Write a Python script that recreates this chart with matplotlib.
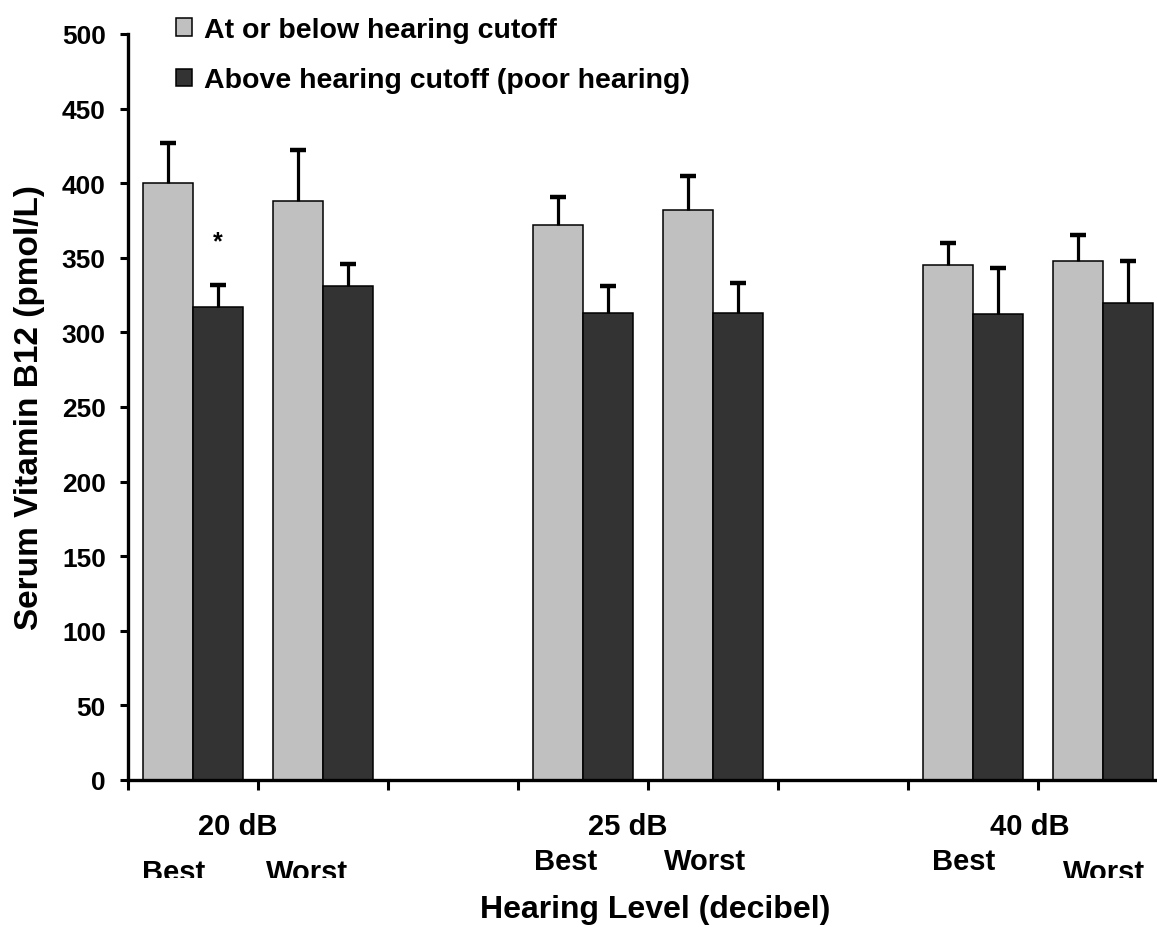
import numpy as np
import matplotlib
matplotlib.use("Agg")
import matplotlib.pyplot as plt
from matplotlib.transforms import Bbox

plt.rcParams['font.family'] = ['Liberation Sans', 'DejaVu Sans']
plt.rcParams['font.weight'] = 'bold'
plt.rcParams['axes.labelweight'] = 'bold'

# data (empty slots are the gaps between hearing levels)
slots = ['20 dB Best', '20 dB Worst', '', '25 dB Best', '25 dB Worst', '', '40 dB Best', '40 dB Worst']
normal = [400, 388, 0, 372, 382, 0, 345, 348]
normal_err = [27, 34, 0, 19, 23, 0, 15, 17]
poor = [317, 331, 0, 313, 313, 0, 312, 320]
poor_err = [15, 15, 0, 18, 20, 0, 31, 28]
labels = ['At or below hearing cutoff', 'Above hearing cutoff (poor hearing)']
light, dark = '#c0c0c0', '#333333'

W, H = 1157, 928
fig = plt.figure(figsize=(W / 100, H / 100), dpi=100)
ax = fig.add_axes([128 / W, (H - 781) / H, (W - 128) / W, 746 / H])

x = np.arange(len(slots))
bw = 0.385
has = np.array([v > 0 for v in normal])

b1 = ax.bar(x - 0.19, normal, bw, color=light, edgecolor='black', linewidth=1.1, zorder=2)
b2 = ax.bar(x + 0.19, poor, bw, color=dark, edgecolor='black', linewidth=1.1, zorder=2)
for b in list(b1) + list(b2):
    if b.get_height() == 0:
        b.set_edgecolor('#dddddd')

# one-sided (upper) error bars
for xs, vals, errs in [(x - 0.19, normal, normal_err), (x + 0.19, poor, poor_err)]:
    e = np.array(errs)[has]
    _, caps, _ = ax.errorbar(xs[has], np.array(vals)[has], yerr=[np.zeros_like(e), e],
                             fmt='none', ecolor='black', elinewidth=2.3, capsize=6,
                             capthick=3.2, zorder=3)
    caps[0].set_visible(False)
    caps[1].set_solid_capstyle('round')

# significance mark over first poor-hearing bar
ax.text(x[0] + 0.19, 361, '*', ha='center', va='center', fontsize=18, fontweight='bold')

ax.set_ylim(0, 500)
ax.set_xlim(-0.5, -0.5 + (W - 128) / 130)
ax.set_yticks(np.arange(0, 501, 50))
ax.tick_params(axis='y', labelsize=19, length=6, width=2.2, pad=10)
ax.set_xticks(np.arange(-0.5, 7, 1.0))
ax.set_xticklabels([])
ax.tick_params(axis='x', length=7, width=2.2, direction='out')
for side in ['top', 'right']:
    ax.spines[side].set_visible(False)
for side in ['left', 'bottom']:
    ax.spines[side].set_linewidth(2.4)

ax.set_ylabel('Serum Vitamin B12 (pmol/L)', fontsize=24, labelpad=12)

# group and sub labels under the axis (figure pixel positions)
def ftext(px, py, s, size=21, clip=False):
    t = fig.text(px / W, 1 - py / H, s, ha='center', va='center', fontsize=size, fontweight='bold')
    if clip:
        t.set_clip_box(Bbox([[0, H - 879], [W, H]]))
        t.set_clip_on(True)
    return t

ftext(238, 827, '20 dB')
ftext(628, 827, '25 dB')
ftext(1030, 827, '40 dB')
ftext(174, 873, 'Best', clip=True)
ftext(307, 873, 'Worst', clip=True)
ftext(566, 862, 'Best')
ftext(705, 862, 'Worst')
ftext(964, 862, 'Best')
ftext(1104, 873, 'Worst', clip=True)
ftext(655, 910, 'Hearing Level (decibel)', size=23)

fig.legend([b1, b2], labels, loc='upper left', bbox_to_anchor=(176 / W, 1 - 18 / H),
           frameon=False, fontsize=20.5, handlelength=0.55, handleheight=0.55,
           handletextpad=0.42, labelspacing=0.85, borderpad=0, borderaxespad=0)

fig.savefig('out.png', dpi=100)
